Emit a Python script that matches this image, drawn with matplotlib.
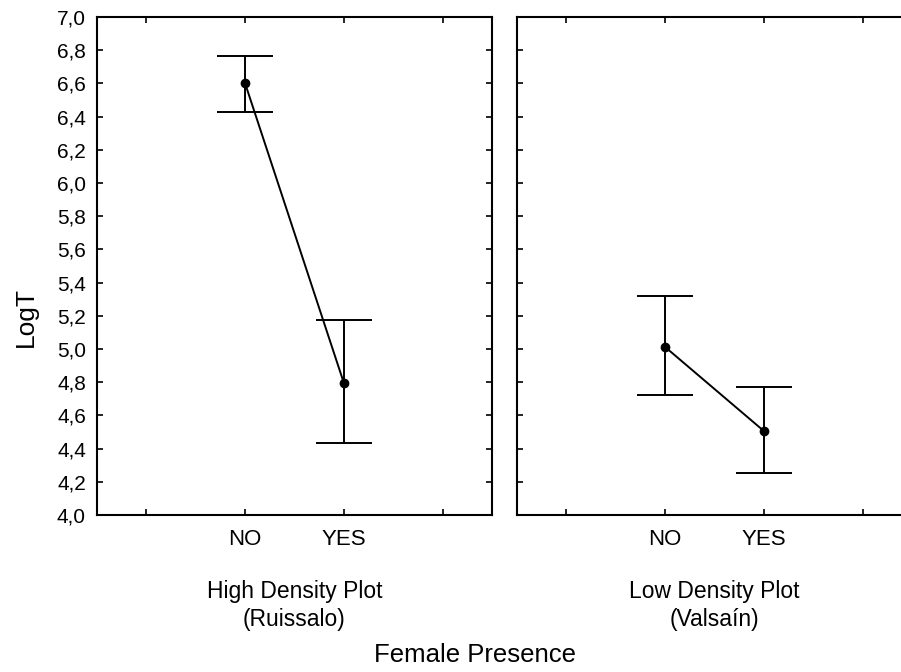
import matplotlib
matplotlib.use("Agg")
import matplotlib.pyplot as plt
import numpy as np

plt.rcParams['font.family'] = ['Liberation Sans', 'DejaVu Sans']

# Female presence levels and per-site means with confidence limits
categories = ["NO", "YES"]
sites = ["High Density Plot\n(Ruissalo)", "Low Density Plot\n(Valsaín)"]
high_mean = [6.60, 4.795]
high_upper = [6.765, 5.175]
high_lower = [6.428, 4.434]
low_mean = [5.012, 4.506]
low_upper = [5.319, 4.771]
low_lower = [4.723, 4.253]
yticks = np.round(np.arange(4.0, 7.0001, 0.2), 1)

fig = plt.figure(figsize=(9.01, 6.72), dpi=100)
W, H = 901.0, 672.0
ax_w = 395 / W
ax_b = (H - 515) / H
ax_h = 498 / H
ax1 = fig.add_axes([97 / W, ax_b, ax_w, ax_h])
ax2 = fig.add_axes([517 / W, ax_b, ax_w, ax_h])

xpos = np.array([1.5, 2.5])
panels = [(ax1, high_mean, high_upper, high_lower, sites[0]),
          (ax2, low_mean, low_upper, low_lower, sites[1])]

for ax, mean, up, lo, site in panels:
    mean = np.array(mean)
    yerr = np.vstack([mean - np.array(lo), np.array(up) - mean])
    ax.errorbar(xpos, mean, yerr=yerr, fmt='none', ecolor='black',
                elinewidth=1.4, capsize=20, capthick=1.4)
    ax.plot(xpos, mean, color='black', lw=1.4, marker='o', ms=6,
            mfc='black', mec='black')
    ax.set_xlim(0, 4)
    ax.set_ylim(4.0, 7.0)
    ax.set_xticks([0.5, 1.5, 2.5, 3.5])
    ax.set_xticklabels(["", categories[0], categories[1], ""])
    ax.set_yticks(yticks)
    ax.tick_params(axis='both', direction='in', length=4, width=1.2,
                   top=True, right=True, pad=8)
    ax.tick_params(axis='y', labelsize=15)
    ax.tick_params(axis='x', labelsize=16, pad=10)
    for s in ax.spines.values():
        s.set_linewidth(1.5)
    ax.text(2.0, -0.13, site, transform=ax.get_xaxis_transform(),
            ha='center', va='top', fontsize=16.5, linespacing=1.3)

ax1.set_yticklabels([f"{v:.1f}".replace('.', ',') for v in yticks])
ax2.set_yticklabels([])

fig.text(26 / W, 1 - 317 / H, "LogT", rotation=90, ha='center', va='center',
         fontsize=19)
fig.text(475 / W, 1 - 655 / H, "Female Presence", ha='center', va='center',
         fontsize=18.5)

fig.savefig("out.png", dpi=100)
